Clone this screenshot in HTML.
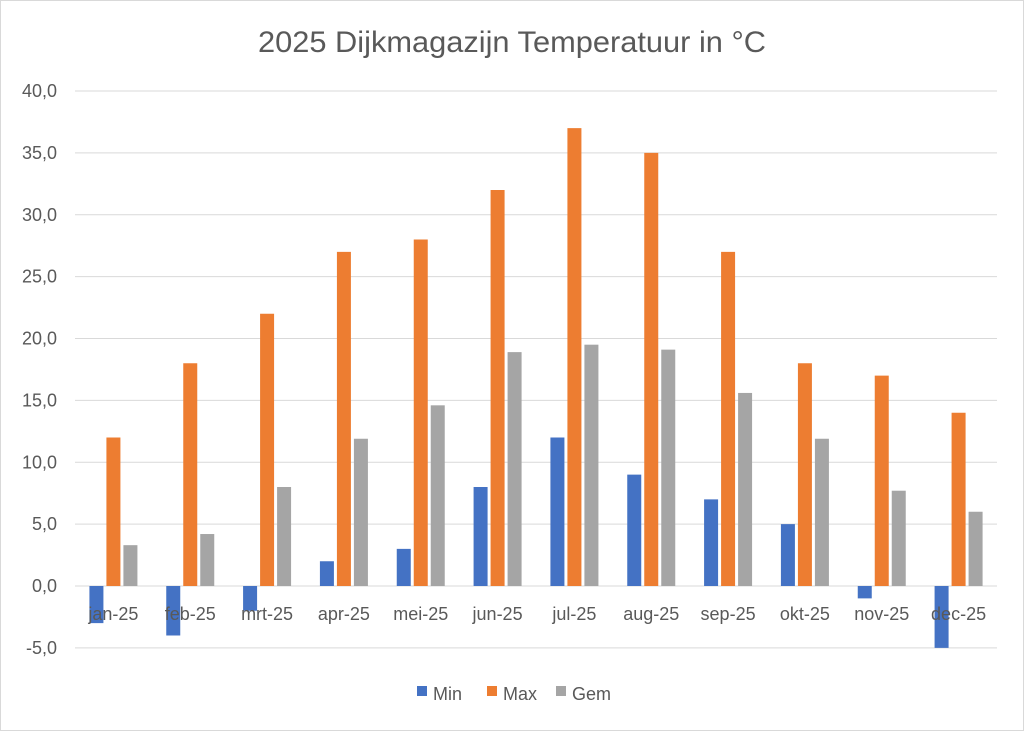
<!DOCTYPE html>
<html><head><meta charset="utf-8"><style>
body{margin:0;background:#fff}
svg text{font-family:"Liberation Sans",sans-serif;fill:#595959}
</style></head><body>
<svg width="1024" height="731" xmlns="http://www.w3.org/2000/svg">
<rect x="0.5" y="0.5" width="1023" height="730" fill="#fff" stroke="#d9d9d9"/>
<text x="512" y="52" font-size="30" text-anchor="middle" textLength="508" lengthAdjust="spacingAndGlyphs">2025 Dijkmagazijn Temperatuur in °C</text>
<g id="grid" stroke="#d9d9d9" stroke-width="1"></g>
<g id="bars"></g>
<g id="labels" font-size="18"></g>
<g font-size="18">
<rect x="417" y="686" width="10" height="10" fill="#4472C4"/><text x="433" y="700">Min</text>
<rect x="487" y="686" width="10" height="10" fill="#ED7D31"/><text x="503" y="700">Max</text>
<rect x="556" y="686" width="10" height="10" fill="#A5A5A5"/><text x="572" y="700">Gem</text>
</g>
</svg>
<script>
var ns="http://www.w3.org/2000/svg";
function el(p,t,a,txt){var e=document.createElementNS(ns,t);for(var k in a)e.setAttribute(k,a[k]);if(txt)e.textContent=txt;document.getElementById(p).appendChild(e);}
var y0=586,s=12.375,L=75,R=997;
for(var v=-5;v<=40;v+=5){var y=y0-v*s;el('grid','line',{x1:L,x2:R,y1:y,y2:y});el('labels','text',{x:57,y:y+6,'text-anchor':'end'},v.toFixed(1).replace('.',','));}
var mn=[-3,-4,-2,2,3,8,12,9,7,5,-1,-5],mx=[12,18,22,27,28,32,37,35,27,18,17,14],gm=[3.3,4.2,8,11.9,14.6,18.9,19.5,19.1,15.6,11.9,7.7,6.0];
var m=["jan-25","feb-25","mrt-25","apr-25","mei-25","jun-25","jul-25","aug-25","sep-25","okt-25","nov-25","dec-25"];
var cw=(R-L)/12;
function bar(x,v,c){var y=v>=0?y0-v*s:y0;el('bars','rect',{x:x,y:y,width:14,height:Math.abs(v)*s,fill:c});}
for(var i=0;i<12;i++){var c=L+cw*(i+0.5);
bar(c-24,mn[i],'#4472C4');bar(c-7,mx[i],'#ED7D31');bar(c+10,gm[i],'#A5A5A5');
el('labels','text',{x:c,y:620,'text-anchor':'middle'},m[i]);}
</script>
</body></html>
